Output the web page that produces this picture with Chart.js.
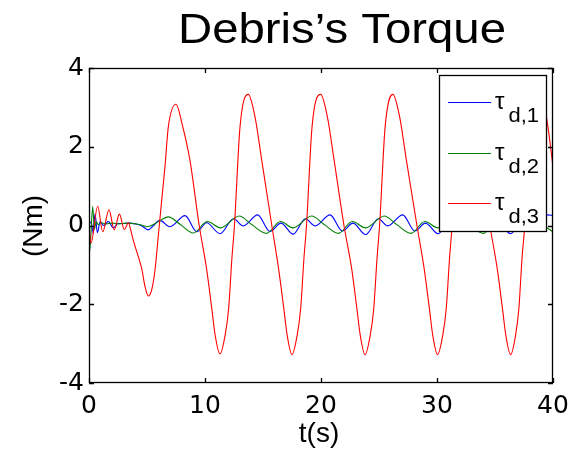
<!DOCTYPE html>
<html>
<head>
<meta charset="utf-8">
<script src="https://cdn.jsdelivr.net/npm/chart.js@4.4.1/dist/chart.umd.min.js"></script>
<style>
html,body{margin:0;padding:0;background:#fff;}
#wrap{width:583px;height:452px;}
canvas{display:block;}
</style>
</head>
<body>
<div id="wrap"><canvas id="c" width="583" height="452"></canvas></div>
<script>
// ---- data ----
const titleText = "Debris\u2019s Torque";
const xLabel = "t(s)";
const yLabel = "(Nm)";
const xTicks = [0, 10, 20, 30, 40];
const yTicks = [-4, -2, 0, 2, 4];
const seriesSub = ["d,1", "d,2", "d,3"];

// tau_d,1 (blue)
const tBlue = [0,0.18,0.37,0.52,0.72,0.97,1.25,1.67,2.10,2.50,3.00,3.50,4.00,4.50,5.11,5.50,
  6.10,6.98,8.28,9.30,10.14,11.30,
  12.45,13.30,14.54,15.60,16.55,17.60,
  18.65,19.50,20.78,21.85,22.75,23.85,
  24.95,25.75,27.04,28.10,29.00,30.10,
  31.20,32.00,33.30,34.35,35.25,36.35,
  37.45,38.25,39.55,40.00];
const vBlue = [0,0.10,-0.20,0.30,-0.18,0.10,0.00,0.10,-0.06,0.05,0.05,0.06,0.04,0.00,-0.11,-0.02,
  0.13,-0.03,0.25,-0.16,0.07,-0.21,
  0.17,-0.01,0.27,-0.15,0.06,-0.22,
  0.17,-0.01,0.27,-0.14,0.06,-0.23,
  0.17,-0.01,0.27,-0.14,0.06,-0.21,
  0.17,-0.01,0.27,-0.14,0.06,-0.21,
  0.17,-0.01,0.27,0.25];

// tau_d,2 (green)
const tGreen = [0,0.06,0.32,0.46,0.62,0.80,1.00,1.50,2.00,2.60,3.20,3.80,4.40,5.00,5.70,
  6.85,7.85,9.00,10.20,11.35,
  12.95,14.00,15.30,16.50,17.60,
  19.20,20.25,21.50,22.70,23.85,
  25.45,26.50,27.75,28.95,30.10,
  31.70,32.75,34.00,35.20,36.35,
  37.95,39.00,40.00];
const vGreen = [0,-0.66,0.48,-0.10,0.10,0.02,0.07,0.04,0.06,0.04,0.06,0.05,0.02,-0.03,0.05,
  0.22,0.03,-0.19,0.10,-0.06,
  0.24,0.03,-0.20,0.10,-0.06,
  0.24,0.03,-0.20,0.10,-0.06,
  0.24,0.03,-0.20,0.10,-0.06,
  0.24,0.03,-0.20,0.10,-0.06,
  0.24,0.03,-0.16];

// tau_d,3 (red)
const tRed = [0,0.17,0.75,1.18,1.72,2.18,2.62,3.05,3.40,3.60,3.82,4.25,4.54,4.83,5.11,5.40,5.69,5.97,6.27,6.55,6.84,7.50,8.08,8.70,
  9.50,10.13,10.58,10.87,11.29,
  11.74,12.04,12.32,12.54,13.02,13.73,14.31,14.89,15.76,16.34,16.79,17.08,17.50,
  17.95,18.25,18.53,18.75,19.23,19.97,20.55,21.13,21.98,22.64,23.09,23.38,23.80,
  24.25,24.55,24.83,25.05,25.53,26.20,26.78,27.36,28.27,28.89,29.34,29.63,30.05,
  30.50,30.80,31.08,31.30,31.75,32.45,33.03,33.62,34.55,35.19,35.64,35.93,36.35,
  36.78,37.06,37.33,37.57,38.12,38.85,39.43,40.00];
const vRed = [0.05,-0.45,0.49,-0.16,0.40,-0.11,0.29,-0.10,0.07,-0.12,-0.38,-0.79,-1.09,-1.55,-1.79,-1.64,-1.13,-0.28,0.65,1.50,2.51,3.08,2.51,1.66,
  0.00,-1.09,-2.10,-2.78,-3.26,
  -2.78,-2.10,-0.83,0.00,2.51,3.33,2.76,1.66,0.00,-1.09,-2.10,-2.78,-3.28,
  -2.78,-2.10,-0.83,0.00,2.51,3.33,2.76,1.66,0.00,-1.09,-2.10,-2.78,-3.28,
  -2.78,-2.10,-0.83,0.00,2.51,3.33,2.76,1.66,0.00,-1.09,-2.10,-2.78,-3.28,
  -2.78,-2.10,-0.83,0.00,2.51,3.33,2.76,1.66,0.00,-1.09,-2.10,-2.78,-3.28,
  -2.78,-2.10,-0.83,0.00,2.51,3.33,2.76,1.50];

const colors = ["#0000ff", "#008000", "#ff0000"];

function pts(ts, vs){ return ts.map((t,i)=>({x:t, y:vs[i]})); }

function drawStretched(ctx, text, cx, baseline, font, targetW){
  ctx.font = font;
  const w = ctx.measureText(text).width;
  ctx.save();
  ctx.translate(cx, baseline);
  ctx.scale(targetW ? targetW / w : 1, 1);
  ctx.textAlign = "center";
  ctx.textBaseline = "alphabetic";
  ctx.fillText(text, 0, 0);
  ctx.restore();
}

const framePlugin = {
  id: "frame",
  afterDatasetsDraw(chart){
    const {ctx, chartArea:a, scales} = chart;
    const xs = scales.x, ys = scales.y;
    ctx.save();
    ctx.strokeStyle = "#000";
    ctx.lineWidth = 1.3;
    ctx.strokeRect(a.left + 0.5, a.top + 0.5, a.right - a.left - 1, a.bottom - a.top - 1);
    ctx.beginPath();
    xTicks.forEach(v=>{
      const p = Math.round(xs.getPixelForValue(v)) + 0.5;
      ctx.moveTo(p, a.bottom); ctx.lineTo(p, a.bottom - 5);
      ctx.moveTo(p, a.top); ctx.lineTo(p, a.top + 5);
    });
    yTicks.forEach(v=>{
      const p = Math.round(ys.getPixelForValue(v)) + 0.5;
      ctx.moveTo(a.left, p); ctx.lineTo(a.left + 5, p);
      ctx.moveTo(a.right, p); ctx.lineTo(a.right - 5, p);
    });
    ctx.stroke();

    // legend box (opaque)
    ctx.fillStyle = "#fff";
    ctx.fillRect(439.5, 75.5, 107, 156);
    ctx.lineWidth = 1.3;
    ctx.strokeRect(439.5, 75.5, 107, 156);
    const rowY = [102.5, 153.5, 203.5];
    rowY.forEach((yy, i)=>{
      ctx.strokeStyle = colors[i];
      ctx.lineWidth = 1;
      ctx.beginPath(); ctx.moveTo(448, yy); ctx.lineTo(491, yy); ctx.stroke();
      ctx.fillStyle = "#000";
      ctx.textAlign = "left";
      ctx.textBaseline = "alphabetic";
      ctx.font = '24px "Liberation Sans"';
      ctx.fillText("\u03c4", 495, yy + 6.5);
      ctx.font = '20px "Liberation Sans"';
      const w = ctx.measureText(seriesSub[i]).width;
      ctx.save();
      ctx.translate(508.5, yy + 19.5);
      ctx.scale(30.5 / w, 1);
      ctx.fillText(seriesSub[i], 0, 0);
      ctx.restore();
    });

    // title and axis labels
    ctx.fillStyle = "#000";
    drawStretched(ctx, titleText, 342, 43, '42px "Liberation Sans"', 328);
    drawStretched(ctx, xLabel, 319, 442, '28px "Liberation Sans"', 0);
    ctx.save();
    ctx.translate(42.3, 226);
    ctx.rotate(-Math.PI / 2);
    ctx.font = '28px "Liberation Sans"';
    ctx.textAlign = "center";
    ctx.textBaseline = "alphabetic";
    ctx.fillText(yLabel, 0, 0);
    ctx.restore();
    ctx.restore();
  }
};

function make(){
  const tickFont = {family: '"DejaVu Sans"', size: 25};
  new Chart(document.getElementById("c"), {
    type: "line",
    data: {
      datasets: [
        {label: "\u03c4 d,1", data: pts(tBlue, vBlue), borderColor: colors[0], order: 3},
        {label: "\u03c4 d,2", data: pts(tGreen, vGreen), borderColor: colors[1], order: 2},
        {label: "\u03c4 d,3", data: pts(tRed, vRed), borderColor: colors[2], order: 1}
      ]
    },
    options: {
      responsive: false,
      animation: false,
      devicePixelRatio: 1,
      layout: {padding: {left: 0, right: 30, top: 68, bottom: 0}},
      elements: {
        point: {radius: 0},
        line: {borderWidth: 1.1, cubicInterpolationMode: "monotone", fill: false}
      },
      plugins: {legend: {display: false}, tooltip: {enabled: false}, title: {display: false}},
      scales: {
        x: {
          type: "linear", min: 0, max: 40,
          afterBuildTicks: s => { s.ticks = xTicks.map(v => ({value: v})); },
          afterFit: s => { s.height = 69; },
          grid: {display: false, drawTicks: false},
          border: {display: false},
          ticks: {font: tickFont, color: "#000", padding: 8, maxRotation: 0, autoSkip: false}
        },
        y: {
          type: "linear", min: -4, max: 4,
          afterBuildTicks: s => { s.ticks = yTicks.map(v => ({value: v})); },
          afterFit: s => { s.width = 89; },
          grid: {display: false, drawTicks: false},
          border: {display: false},
          ticks: {font: tickFont, color: "#000", padding: 5, autoSkip: false}
        }
      }
    },
    plugins: [framePlugin]
  });
}

Promise.all([
  document.fonts.load('42px "Liberation Sans"'),
  document.fonts.load('25px "DejaVu Sans"')
]).then(make, make);
</script>
</body>
</html>
